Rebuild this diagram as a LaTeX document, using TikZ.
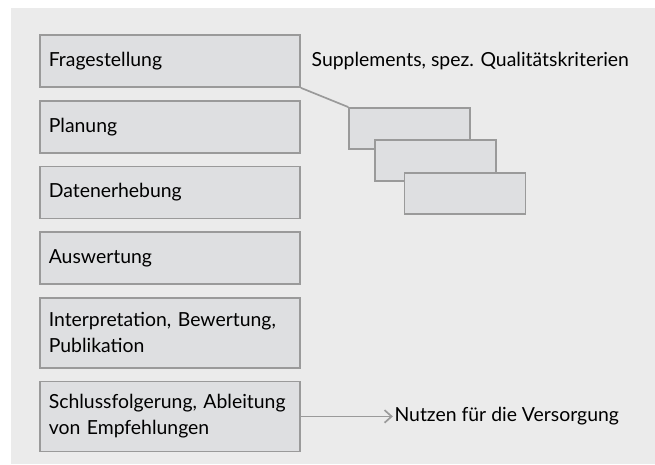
\documentclass[tikz,border=0pt]{standalone}
\usepackage{fontspec}
\setmainfont{Lato}
\usepackage{tikz}
\usepackage{xcolor}
\usetikzlibrary{positioning,arrows.meta}
\definecolor{mybg}{HTML}{EBEBEB}
\definecolor{mybox}{HTML}{DEDFE1}
\definecolor{myline}{HTML}{9A9A9A}

\begin{document}
\begin{tikzpicture}[
    stage/.style={draw=myline, line width=1.2pt, fill=mybox, minimum width=6.5cm, minimum height=1.3cm, text width=6.06cm, align=left, inner xsep=0.22cm, font=\fontsize{13.8}{18.5}\selectfont},
    sub/.style={draw=myline, line width=1.2pt, fill=mybox, minimum width=3.025cm, minimum height=1.025cm},
    label/.style={font=\fontsize{13.8}{18.5}\selectfont, inner sep=1pt},
    node distance=0.3cm]
    \useasboundingbox (0, 0) rectangle (16.375, -11.6);
    \fill[mybg] (0.275, -0.2) rectangle (16.375, -11.6);
    \node[stage] (1) at (4.25, -1.525) {Fragestellung};
    \node[stage, below=of 1] (2) {Planung};
    \node[stage, below=of 2] (3) {Datenerhebung};
    \node[stage, below=of 3] (4) {Auswertung};
    \node[stage, below=of 4, minimum height=1.75cm] (5) {Interpretation, Bewertung,\\Publikation};
    \node[stage, below=of 5, minimum height=1.75cm] (6) {Schlussfolgerung, Ableitung\\von Empfehlungen};
    \node[sub] (7) at (10.24, -3.21) {};
    \node[sub] (8) at (10.89, -4.01) {};
    \node[sub] (9) at (11.625, -4.84) {};
    \node[label, anchor=west] (10) at (7.75, -1.525) {Supplements, spez. Qualitätskriterien};
    \node[label, right=2.3cm of 6] (11) {Nutzen für die Versorgung};
    \draw[myline, line width=1.2pt] (1.south east) -- (7.north west);
    \draw[myline, line width=1.2pt, -{Straight Barb[length=5pt, width=9pt]}] (6) -- (11);
\end{tikzpicture}
\end{document}
